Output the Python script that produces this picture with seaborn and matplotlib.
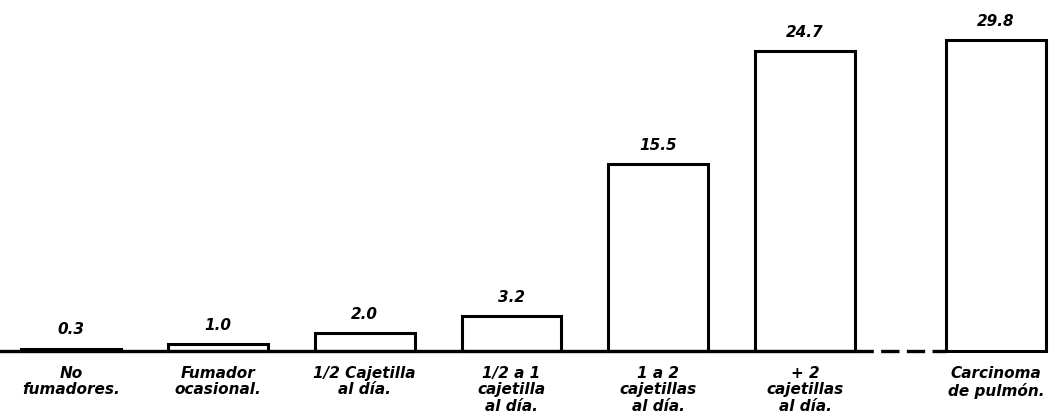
import numpy as np
import matplotlib
matplotlib.use("Agg")
import matplotlib.pyplot as plt
import seaborn as sns

# Categories (x labels), printed values and bar heights as drawn in the original figure
categories = [
    "No\nfumadores.",
    "Fumador\nocasional.",
    "1/2 Cajetilla\nal día.",
    "1/2 a 1\ncajetilla\nal día.",
    "1 a 2\ncajetillas\nal día.",
    "+ 2\ncajetillas\nal día.",
    "Carcinoma\nde pulmón.",
]
values = [0.3, 1.0, 2.0, 3.2, 15.5, 24.7, 29.8]
heights = [0.2, 0.6, 1.5, 2.9, 15.4, 24.7, 25.6]

sns.set_theme(style="white")
plt.rcParams["font.family"] = ["DejaVu Sans"]
plt.rcParams["text.color"] = "black"
plt.rcParams["xtick.color"] = "black"

# last bar is set apart from the smoking groups
gap = 0.3
pos = np.arange(len(categories), dtype=float)
pos[-1] += gap

fig = plt.figure(figsize=(10.56, 4.2), dpi=100)
ax = fig.add_axes([0, 69 / 420, 1, 351 / 420])

sns.barplot(x=pos, y=heights, native_scale=True, orient="x", width=0.68,
            color="white", saturation=1, edgecolor="black", linewidth=2.2, ax=ax)
for p in ax.patches:
    p.set_clip_on(False)

ax.set_xlim(-0.484, 6.71)
ax.set_ylim(0, 28.9)

# baseline: solid under the groups, dashed up to the carcinoma bar
ax.plot([-0.6, 5.34], [0, 0], color="black", lw=2.4, solid_capstyle="butt", clip_on=False)
ax.plot([5.34, pos[-1] - 0.34], [0, 0], color="black", lw=2.4, ls=(0, (5.5, 2.2)),
        dash_capstyle="butt", clip_on=False)

for x, h, v in zip(pos, heights, values):
    ax.annotate(f"{v:.1f}", (x, h), xytext=(0, 8), textcoords="offset points",
                ha="center", va="bottom", fontsize=11, fontweight="bold",
                style="italic", color="black")

ax.set_xticks(pos, categories)
ax.tick_params(axis="x", length=0, pad=11)
for lab in ax.get_xticklabels():
    lab.set_fontsize(11)
    lab.set_fontweight("bold")
    lab.set_style("italic")
    lab.set_linespacing(1.1)
    lab.set_color("black")
ax.set_yticks([])
ax.set_xlabel("")
ax.set_ylabel("")
sns.despine(ax=ax, left=True, bottom=True)

fig.savefig("out.png", dpi=100, facecolor="white")
